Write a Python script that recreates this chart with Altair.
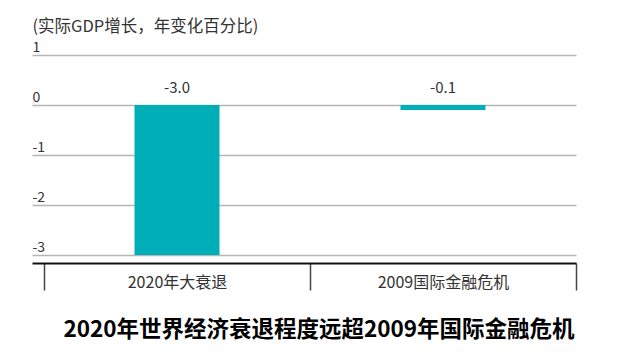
import altair as alt
import pandas as pd

categories = ["2020年大衰退", "2009国际金融危机"]
values = [-3.0, -0.1]
y_ticks = [-3, -2, -1, 0, 1]

df = pd.DataFrame({"cat": categories, "val": values})

FONT = "Noto Sans CJK SC"
BAR = "#00AEB8"

x_enc = alt.X(
    "cat:N",
    sort=categories,
    scale=alt.Scale(paddingInner=0, paddingOuter=0.02256, align=1),
    axis=alt.Axis(
        title=None, orient="bottom", offset=8, grid=False,
        domainColor="#111111", domainWidth=2,
        tickBand="extent", tickSize=27, tickColor="#444444", tickWidth=1.5,
        labelFontSize=16, labelColor="#333333", labelFont=FONT,
        labelPadding=-16, labelAngle=0,
    ),
)
y_scale = alt.Scale(domain=[-3, 1], nice=False, zero=False)

bars = alt.Chart(df).mark_bar(size=85, color=BAR).encode(
    x=x_enc,
    y=alt.Y(
        "val:Q", scale=y_scale,
        axis=alt.Axis(
            values=y_ticks, grid=True, gridColor="#b5b5b5", gridWidth=1.5,
            domain=False, ticks=False, tickSize=0,
            labelAlign="left", labelBaseline="bottom", labelPadding=0, labelOffset=-1,
            labelFontSize=14, labelColor="#333333", labelFont=FONT,
            labelExpr="replace(datum.label, '\u2212', '-')",
            title="(实际GDP增长，年变化百分比)", titleAngle=0, titleAlign="left",
            titleBaseline="middle", titleX=0, titleY=-29, titleFontSize=16.5,
            titleFontWeight="normal", titleColor="#333333", titleFont=FONT,
        ),
    ),
)

labels = alt.Chart(df).transform_calculate(
    zero="0",
    lbl="replace(format(datum.val, '.1f'), '\u2212', '-')",
).mark_text(
    dy=-17, fontSize=15, color="#333333", font=FONT, baseline="middle"
).encode(
    x=alt.X("cat:N", sort=categories),
    y=alt.Y("zero:Q", scale=y_scale),
    text="lbl:N",
)

chart = alt.layer(bars, labels).properties(
    width=544, height=200,
    padding={"left": 32, "top": 55, "right": 49, "bottom": 99},
    autosize=alt.AutoSizeParams(type="none"),
    background="white",
    title=alt.TitleParams(
        text="2020年世界经济衰退程度远超2009年国际金融危机",
        orient="bottom", anchor="middle", offset=28, fontSize=22.5, dx=15,
        fontWeight="bold", color="#000000", font=FONT,
    ),
).configure_view(stroke=None)

chart.save("out.html", embed_options={"renderer": "svg", "actions": False})
